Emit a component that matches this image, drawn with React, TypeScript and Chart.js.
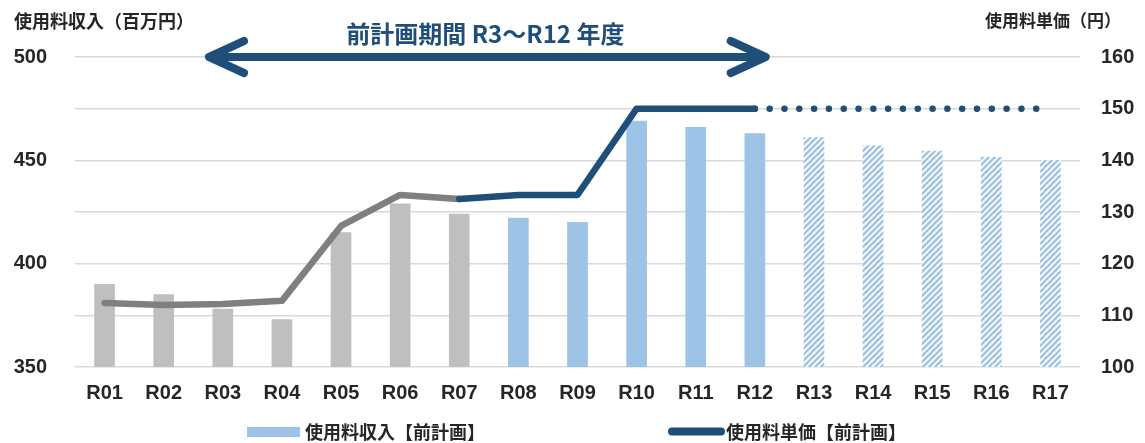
import React, { useEffect, useRef } from "react";
import { Chart, registerables } from "chart.js";

Chart.register(...registerables);

// ---- data ----
const categories = ["R01", "R02", "R03", "R04", "R05", "R06", "R07", "R08", "R09", "R10", "R11", "R12", "R13", "R14", "R15", "R16", "R17"];
const revenue = [390, 385, 378, 373, 415, 429, 424, 422, 420, 469, 466, 463, 461, 457, 454.5, 451.5, 450];
const unitPrice = [112.4, 112.0, 112.2, 112.8, 127.3, 133.3, 132.5, 133.3, 133.3, 150, 150, 150, 150, 150, 150, 150, 150];
const leftTickRange = [350, 500, 25];
const rightTickRange = [100, 160, 10];
const revenueLabel = "使用料収入【前計画】";
const priceLabel = "使用料単価【前計画】";
const leftAxisTitle = "使用料収入（百万円）";
const rightAxisTitle = "使用料単価（円）";
const periodTitle = "前計画期間 R3～R12 年度";
const actualCount = 7; // R01-R07
const planCount = 12; // up to R12
const arrowFrom = 1.75; // category position
const arrowTo = 11.2;

const GRAY_BAR = "#BFBFBF";
const BLUE_BAR = "#9DC3E6";
const GRAY_LINE = "#7F7F7F";
const BLUE_LINE = "#1F4E79";
const TEXT = "#262626";
const LATIN = "'Liberation Sans', 'Noto Sans CJK JP', sans-serif";
const CJK = "'Noto Sans CJK JP', 'Liberation Sans', sans-serif";

function makeHatch(): CanvasPattern | string {
  const c = document.createElement("canvas");
  c.width = 6;
  c.height = 6;
  const g = c.getContext("2d");
  if (!g) return BLUE_BAR;
  g.fillStyle = "#ffffff";
  g.fillRect(0, 0, 6, 6);
  g.strokeStyle = BLUE_BAR;
  g.lineWidth = 2.3;
  g.beginPath();
  g.moveTo(-1, 7);
  g.lineTo(7, -1);
  g.moveTo(-4, 4);
  g.lineTo(4, -4);
  g.moveTo(2, 10);
  g.lineTo(10, 2);
  g.stroke();
  const p = g.createPattern(c, "repeat");
  return p || BLUE_BAR;
}

const overlay = {
  id: "overlay",
  afterDraw(chart: any) {
    const ctx = chart.ctx as CanvasRenderingContext2D;
    const xs = chart.scales.x;
    const yl = chart.scales.y;
    ctx.save();
    // axis titles
    ctx.fillStyle = TEXT;
    ctx.textBaseline = "middle";
    ctx.textAlign = "left";
    ctx.font = `bold 18px ${CJK}`;
    ctx.fillText(leftAxisTitle, 14, 21);
    ctx.font = `bold 17px ${CJK}`;
    ctx.fillText(rightAxisTitle, 985, 21);

    // double arrow
    const yA = yl.getPixelForValue(leftTickRange[1]);
    const xa = xs.getPixelForValue(arrowFrom);
    const xb = xs.getPixelForValue(arrowTo);
    ctx.strokeStyle = BLUE_LINE;
    ctx.lineWidth = 8;
    ctx.lineCap = "round";
    ctx.lineJoin = "round";
    ctx.beginPath();
    ctx.moveTo(xa + 3, yA);
    ctx.lineTo(xb - 3, yA);
    ctx.stroke();
    ctx.beginPath();
    ctx.moveTo(xa + 36, yA - 16);
    ctx.lineTo(xa + 1, yA);
    ctx.lineTo(xa + 36, yA + 16);
    ctx.moveTo(xb - 36, yA - 16);
    ctx.lineTo(xb - 1, yA);
    ctx.lineTo(xb - 36, yA + 16);
    ctx.stroke();

    // period title
    ctx.fillStyle = BLUE_LINE;
    ctx.font = `bold 24px ${CJK}`;
    ctx.textAlign = "center";
    ctx.fillText(periodTitle, (xa + xb) / 2 - 2, 34);

    // legend
    const ds = chart.data.datasets;
    ctx.fillStyle = BLUE_BAR;
    ctx.fillRect(247, 427, 53, 10);
    ctx.strokeStyle = BLUE_LINE;
    ctx.lineWidth = 8;
    ctx.lineCap = "round";
    ctx.beginPath();
    ctx.moveTo(672, 431.5);
    ctx.lineTo(721, 431.5);
    ctx.stroke();
    ctx.fillStyle = TEXT;
    ctx.font = `bold 18px ${CJK}`;
    ctx.textAlign = "left";
    ctx.fillText(ds[1].label, 305, 432);
    ctx.fillText(ds[0].label, 726, 432);
    ctx.restore();
  },
};

export default function App() {
  const ref = useRef<HTMLCanvasElement | null>(null);

  useEffect(() => {
    if (!ref.current) return;
    const hatch = makeHatch();
    const barColors = revenue.map((_, i) => (i < actualCount ? GRAY_BAR : i < planCount ? BLUE_BAR : hatch));

    const chart = new Chart(ref.current, {
      type: "bar",
      data: {
        labels: categories,
        datasets: [
          {
            type: "line",
            label: priceLabel,
            data: unitPrice,
            yAxisID: "y1",
            order: 0,
            borderColor: BLUE_LINE,
            borderWidth: 6.5,
            borderCapStyle: "round",
            borderJoinStyle: "round",
            pointRadius: 0,
            tension: 0,
            segment: {
              borderColor: (c: any) => (c.p0DataIndex < actualCount - 1 ? GRAY_LINE : BLUE_LINE),
              borderDash: (c: any) => (c.p0DataIndex >= planCount - 1 ? [0.01, 14.8] : undefined),
            },
          } as any,
          {
            type: "bar",
            label: revenueLabel,
            data: revenue,
            yAxisID: "y",
            order: 1,
            backgroundColor: barColors,
            borderWidth: 0,
            barThickness: 20,
          } as any,
        ],
      },
      options: {
        responsive: false,
        animation: false,
        layout: { padding: { top: 57, left: 0, right: 0, bottom: 0 } },
        plugins: {
          legend: { display: false },
          tooltip: { enabled: false },
          title: { display: false },
        },
        scales: {
          x: {
            grid: { display: false, drawTicks: false },
            border: { display: false },
            ticks: {
              padding: 14,
              color: TEXT,
              font: { family: LATIN, size: 20, weight: "bold" },
            },
            afterFit: (s: any) => {
              s.height = 76;
            },
          },
          y: {
            position: "left",
            min: leftTickRange[0],
            max: leftTickRange[1],
            grid: { color: "#D9D9D9", lineWidth: 1.5, drawTicks: false },
            border: { display: false },
            ticks: {
              stepSize: leftTickRange[2],
              padding: 28,
              color: TEXT,
              font: { family: LATIN, size: 20, weight: "bold" },
              callback: (v: any) => (Number(v) % 50 === 0 ? String(v) : ""),
            },
            afterFit: (s: any) => {
              s.width = 75;
            },
          },
          y1: {
            position: "right",
            min: rightTickRange[0],
            max: rightTickRange[1],
            grid: { display: false, drawTicks: false },
            border: { display: false },
            ticks: {
              stepSize: rightTickRange[2],
              padding: 21,
              color: TEXT,
              font: { family: LATIN, size: 20, weight: "bold" },
            },
            afterFit: (s: any) => {
              s.width = 65;
            },
          },
        },
      },
      plugins: [overlay],
    } as any);

    return () => chart.destroy();
  }, []);

  return (
    <div style={{ position: "absolute", left: 0, top: 0, width: 1145, height: 443, background: "#fff" }}>
      <canvas ref={ref} width={1145} height={443} style={{ display: "block", width: 1145, height: 443 }} />
    </div>
  );
}
